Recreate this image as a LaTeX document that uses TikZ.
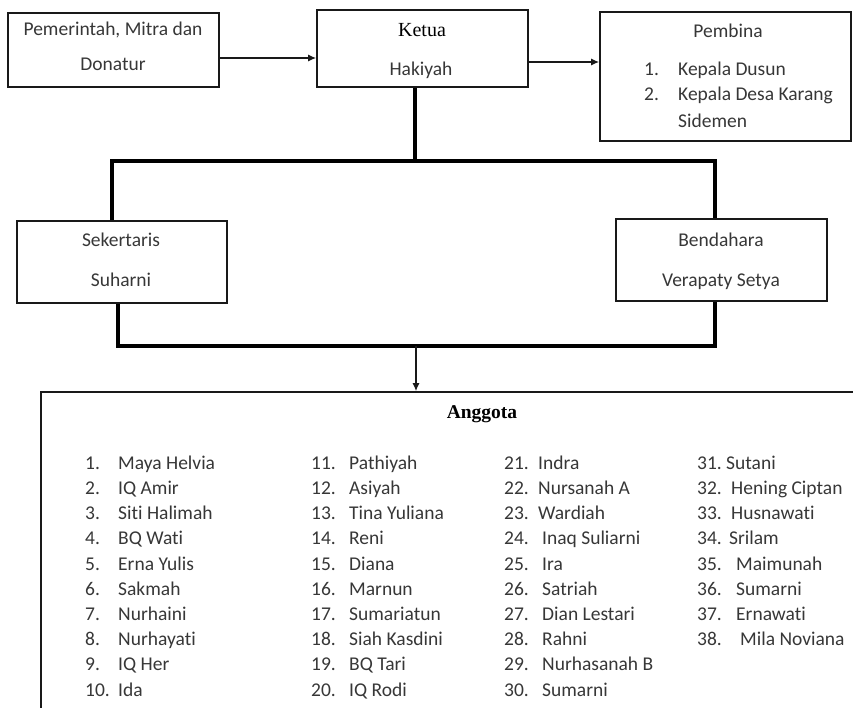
\documentclass[tikz,border=0pt]{standalone}
\usepackage{fontspec}
\setmainfont{Carlito}[Ligatures={NoCommon}]
\newfontfamily\kserif{Liberation Serif}
\usetikzlibrary{arrows.meta}
\definecolor{tc}{RGB}{55,55,55}
\tikzset{
  box/.style={draw=black!90, line width=1.6pt, inner sep=0pt},
  thk/.style={draw=black, line width=3.2pt},
  arr/.style={draw=black!90, line width=1.4pt, -{Latex[length=8pt,width=7pt]}},
  txt/.style={anchor=base, inner sep=0pt, text=tc, font=\fontsize{19.5}{23}\selectfont},
  lft/.style={anchor=base west, inner sep=0pt, text=tc, font=\fontsize{19.5}{23}\selectfont},
  stx/.style={anchor=base, inner sep=0pt, text=black, font=\kserif\fontsize{20}{23}\selectfont},
}
\begin{document}
\begin{tikzpicture}[x=1pt,y=-1pt]
\clip (0,0) rectangle (853,708);
\fill[white] (0,0) rectangle (853,708);
% boxes
\node[box, minimum width=211pt, minimum height=74pt] (pem) at (113.5,50) {};
\node[box, minimum width=211pt, minimum height=77pt] (ketua) at (422.5,48.5) {};
\node[box, minimum width=251pt, minimum height=129pt] (pembina) at (725.5,76.5) {};
\node[box, minimum width=210pt, minimum height=82pt] (sek) at (122,262) {};
\node[box, minimum width=211pt, minimum height=82pt] (bend) at (721.5,260) {};
\node[box, minimum width=859pt, minimum height=408pt] (ang) at (470.5,596) {};
% texts
\node[txt] (t1) at (113,36) {Pemerintah, Mitra dan};
\node[txt] (t2) at (113,71) {Donatur};
\node[stx] (t3) at (422,37) {Ketua};
\node[txt] (t4) at (421,76) {Hakiyah};
\node[txt] (t5) at (728,38) {Pembina};
\node[lft] (t6) at (644,76) {1.};
\node[lft] (t7) at (678,76) {Kepala Dusun};
\node[lft] (t8) at (644,101) {2.};
\node[lft] (t9) at (678,101) {Kepala Desa Karang};
\node[lft] (t10) at (678,128) {Sidemen};
\node[txt] (t11) at (121,247) {Sekertaris};
\node[txt] (t12) at (121,287) {Suharni};
\node[txt] (t13) at (721,247) {Bendahara};
\node[txt] (t14) at (721,287) {Verapaty Setya};
\node[stx, font=\kserif\bfseries\fontsize{19.5}{23}\selectfont] (t15) at (482,418) {Anggota};
% list
\foreach \k/\r/\nx/\tx/\nm in {
 1/0/85/118/Maya Helvia, 2/1/85/118/IQ Amir, 3/2/85/118/Siti Halimah, 4/3/85/118/BQ Wati,
 5/4/85/118/Erna Yulis, 6/5/85/118/Sakmah, 7/6/85/118/Nurhaini, 8/7/85/118/Nurhayati,
 9/8/85/118/IQ Her, 10/9/85/118/Ida,
 11/0/311/349/Pathiyah, 12/1/311/349/Asiyah, 13/2/311/349/Tina Yuliana, 14/3/311/349/Reni,
 15/4/311/349/Diana, 16/5/311/349/Marnun, 17/6/311/349/Sumariatun, 18/7/311/349/Siah Kasdini,
 19/8/311/349/BQ Tari, 20/9/311/349/IQ Rodi,
 21/0/504/538/Indra, 22/1/504/538/Nursanah A, 23/2/504/538/Wardiah, 24/3/504/542/Inaq Suliarni,
 25/4/504/542/Ira, 26/5/504/542/Satriah, 27/6/504/542/Dian Lestari, 28/7/504/542/Rahni,
 29/8/504/542/Nurhasanah B, 30/9/504/542/Sumarni,
 31/0/697/726/Sutani, 32/1/697/731/Hening Ciptan, 33/2/697/731/Husnawati, 34/3/697/729/Srilam,
 35/4/697/736/Maimunah, 36/5/697/736/Sumarni, 37/6/697/736/Ernawati, 38/7/697/740/Mila Noviana}{
  \node[lft] (n\k) at (\nx,{469.3+25.2*\r}) {\k.};
  \node[lft] (m\k) at (\tx,{469.3+25.2*\r}) {\nm};
}
% connectors
\draw[arr] ([yshift=-8pt]pem.east) -- ([yshift=-8pt]pem.east -| ketua.west);
\draw[arr] ([yshift=-13.5pt]ketua.east) -- ([yshift=-13.5pt]ketua.east -| pembina.west);
\coordinate (jt) at (415,161);
\coordinate (tl) at (112,161);
\coordinate (tr) at (715,161);
\draw[thk] (jt |- ketua.south) -- (jt);
\draw[thk] (tl |- sek.north) -- (tl) -- (tr) -- (tr |- bend.north);
\coordinate (bl) at (118,346);
\coordinate (br) at (715,346);
\coordinate (jb) at (416,346);
\draw[thk] (bl |- sek.south) -- (bl) -- (br) -- (br |- bend.south);
\draw[arr] (jb) -- (jb |- ang.north);
\end{tikzpicture}
\end{document}
